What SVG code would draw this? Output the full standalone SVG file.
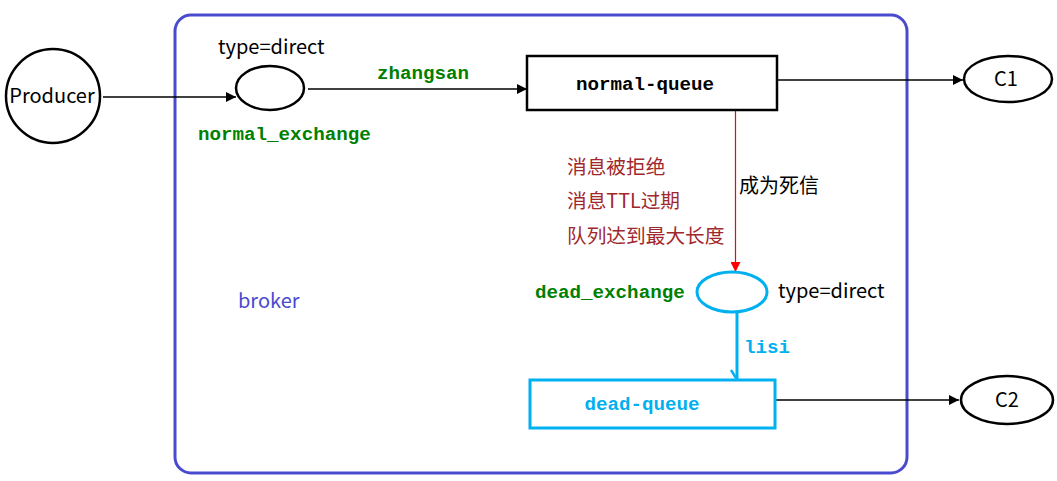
<svg xmlns="http://www.w3.org/2000/svg" width="1057" height="481" viewBox="0 0 1057 481">
<style>
.sans{font-family:"Noto Sans CJK SC","Liberation Sans",sans-serif;font-size:20px;fill:#000}
.mono{font-family:"Liberation Mono","Courier New",monospace;font-weight:bold;font-size:19.2px}
.green{fill:#008000}
.cyan{fill:#00B0F0}
.red{font-family:"Noto Sans CJK SC",sans-serif;font-size:19.7px;fill:#A0282D}
.node{fill:#fff;stroke:#000;stroke-width:2.5}
.cnode{fill:#fff;stroke:#00B0F0;stroke-width:3}
.blk{stroke:#000;stroke-width:1.3;fill:none}
</style>
<defs>
<marker id="ah" viewBox="0 0 10 10" refX="10" refY="5" markerWidth="10" markerHeight="10" markerUnits="userSpaceOnUse" orient="auto">
<path d="M0,0 L10,5 L0,10 Z" fill="#000"/>
</marker>
<marker id="ahr" viewBox="0 0 10 10" refX="10" refY="5" markerWidth="10" markerHeight="10" markerUnits="userSpaceOnUse" orient="auto">
<path d="M0,0 L10,5 L0,10 Z" fill="#FF0000"/>
</marker>
</defs>
<rect id="broker" x="175" y="15" width="732" height="458" rx="16" fill="none" stroke="#4A4ACF" stroke-width="3"/>
<text x="238" y="308" class="sans" style="fill:#4A4ACF">broker</text>
<g id="connectors">
<line x1="103" y1="97" x2="236" y2="97" class="blk" marker-end="url(#ah)"/>
<line x1="308" y1="89" x2="527" y2="89" class="blk" marker-end="url(#ah)"/>
<line x1="777" y1="80" x2="963" y2="80" class="blk" marker-end="url(#ah)"/>
<line x1="735.5" y1="111" x2="735.5" y2="272" stroke="#FF0000" stroke-width="1.2" marker-end="url(#ahr)"/>
<line x1="737" y1="312" x2="737" y2="379" stroke="#00B0F0" stroke-width="3"/>
<path d="M731,370 L736,378" stroke="#00B0F0" stroke-width="2.5" fill="none"/>
<line x1="776" y1="400" x2="959" y2="400" class="blk" marker-end="url(#ah)"/>
<text x="377" y="79" class="mono green">zhangsan</text>
<text x="744" y="353" class="mono cyan">lisi</text>
<text x="739" y="193" class="sans">成为死信</text>
<text x="567" y="174" class="red">消息被拒绝</text>
<text x="567" y="208" class="red">消息TTL过期</text>
<text x="567" y="243" class="red">队列达到最大长度</text>
</g>
<g id="producer">
<circle cx="53" cy="96" r="47" class="node"/>
<text x="52" y="103" class="sans" text-anchor="middle">Producer</text>
</g>
<g id="normal_exchange">
<ellipse cx="270" cy="88" rx="34" ry="22" class="node"/>
<text x="218" y="54" class="sans">type=direct</text>
<text x="198" y="140" class="mono green">normal_exchange</text>
</g>
<g id="normal_queue">
<rect x="527" y="56" width="250" height="54" class="node" stroke-width="3"/>
<text x="645" y="90" class="mono" text-anchor="middle">normal-queue</text>
</g>
<g id="c1">
<ellipse cx="1008" cy="79" rx="44" ry="23" class="node"/>
<text x="1006" y="86" class="sans" text-anchor="middle">C1</text>
</g>
<g id="dead_exchange">
<ellipse cx="732" cy="292" rx="35" ry="20" class="cnode"/>
<text x="535" y="298" class="mono green">dead_exchange</text>
<text x="778" y="298" class="sans">type=direct</text>
</g>
<g id="dead_queue">
<rect x="530" y="380" width="245" height="48" class="cnode"/>
<text x="642" y="410" class="mono cyan" text-anchor="middle">dead-queue</text>
</g>
<g id="c2">
<ellipse cx="1007" cy="400" rx="46" ry="24" class="node"/>
<text x="1007" y="407" class="sans" text-anchor="middle">C2</text>
</g>
</svg>
